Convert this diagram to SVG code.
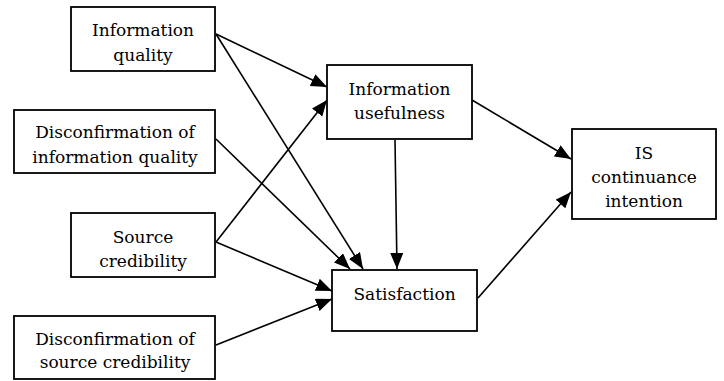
<svg xmlns="http://www.w3.org/2000/svg" width="724" height="381" viewBox="0 0 724 381">
<style>
.box{fill:#fff;stroke:#000;stroke-width:1.8}
.c{stroke:#000;stroke-width:1.6;fill:none}
.t{font-family:"DejaVu Serif",serif;font-size:17px;text-anchor:middle;fill:#000}
</style>
<defs>
<marker id="ah" markerWidth="17" markerHeight="14" refX="16" refY="6.5" orient="auto" markerUnits="userSpaceOnUse">
<path d="M0,0 L16,6.5 L0,13 Z" fill="#000"/>
</marker>
</defs>
<rect width="724" height="381" fill="#fff"/>
<g id="connectors">
<path class="c" marker-end="url(#ah)" d="M216,34 L327,87"/>
<path class="c" marker-end="url(#ah)" d="M216,34 L363,269"/>
<path class="c" marker-end="url(#ah)" d="M216,139 L350,269"/>
<path class="c" marker-end="url(#ah)" d="M216,242 L327,100"/>
<path class="c" marker-end="url(#ah)" d="M216,242 L332,291"/>
<path class="c" marker-end="url(#ah)" d="M216,345 L332,299"/>
<path class="c" marker-end="url(#ah)" d="M395,140 L397,269"/>
<path class="c" marker-end="url(#ah)" d="M472,100 L571,159"/>
<path class="c" marker-end="url(#ah)" d="M478,298 L571,192"/>
</g>
<g id="info-quality">
<rect class="box" x="71" y="7" width="144" height="64"/>
<text class="t" x="143" y="36">Information</text>
<text class="t" x="143" y="61">quality</text>
</g>
<g id="disc-info-quality">
<rect class="box" x="14" y="110" width="201" height="63"/>
<text class="t" x="115" y="138">Disconfirmation of</text>
<text class="t" x="115" y="163">information quality</text>
</g>
<g id="source-credibility">
<rect class="box" x="71" y="213" width="144" height="64"/>
<text class="t" x="143" y="243">Source</text>
<text class="t" x="143" y="267">credibility</text>
</g>
<g id="disc-source-credibility">
<rect class="box" x="14" y="316" width="201" height="63"/>
<text class="t" x="115" y="345">Disconfirmation of</text>
<text class="t" x="115" y="368">source credibility</text>
</g>
<g id="info-usefulness">
<rect class="box" x="327" y="65" width="145" height="74"/>
<text class="t" x="399.5" y="95">Information</text>
<text class="t" x="399.5" y="119">usefulness</text>
</g>
<g id="satisfaction">
<rect class="box" x="332" y="270" width="145" height="61"/>
<text class="t" x="404.5" y="300">Satisfaction</text>
</g>
<g id="is-continuance">
<rect class="box" x="572" y="129" width="144" height="90"/>
<text class="t" x="644" y="159">IS</text>
<text class="t" x="644" y="183">continuance</text>
<text class="t" x="644" y="207">intention</text>
</g>
</svg>
